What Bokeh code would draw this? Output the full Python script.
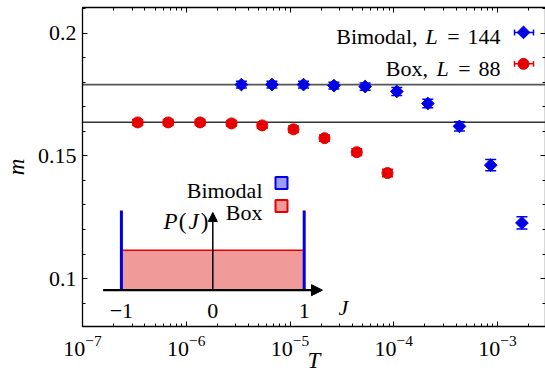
import numpy as np
from bokeh.plotting import figure
from bokeh.models import (Range1d, LinearScale, LogAxis, LinearAxis, FixedTicker, LogTicker,
                          Span, Whisker, TeeHead, ColumnDataSource, Arrow, NormalHead,
                          CustomJSTickFormatter)
from bokeh.core.properties import value
from bokeh.embed import file_html
from bokeh.resources import INLINE

# ---------------- data ----------------
T_bimodal = [3.4e-6, 6.7e-6, 1.35e-5, 2.65e-5, 5.3e-5, 1.07e-4, 2.13e-4, 4.3e-4, 8.6e-4, 1.72e-3]
m_bimodal = [0.1790, 0.1790, 0.1790, 0.1786, 0.1782, 0.1762, 0.1713, 0.1620, 0.1462, 0.1227]
err_bimodal = [0.0014, 0.0014, 0.0014, 0.0014, 0.0015, 0.0016, 0.0017, 0.0019, 0.0023, 0.0025]

T_box = [3.4e-7, 6.7e-7, 1.36e-6, 2.73e-6, 5.4e-6, 1.08e-5, 2.15e-5, 4.4e-5, 8.7e-5]
m_box = [0.1636, 0.1636, 0.1636, 0.1632, 0.1624, 0.1608, 0.1572, 0.1515, 0.1430]
err_box = [0.0012, 0.0012, 0.0012, 0.0012, 0.0012, 0.0013, 0.0013, 0.0014, 0.0015]

plateaus = [0.179, 0.1637]
series_names = ["Bimodal", "Box"]
L_values = ["144", "88"]

y_tick_values = [0.1, 0.15, 0.2]
y_tick_labels = ["0.1", "0.15", "0.2"]
y_minor_ticks = [0.08, 0.09, 0.10, 0.11, 0.12, 0.13, 0.14, 0.15, 0.16, 0.17, 0.18, 0.19, 0.20, 0.21]

# inset distributions P(J)
box_J = [-1.0, 1.0]
box_P = [1.0]
bimodal_J = [-1.0, 1.0]
bimodal_P = [2.0, 2.0]
J_ticks = [-1, 0, 1]
J_tick_labels = ["\u22121", "0", "1"]

BLUE = "#0000e6"
RED = "#e60000"
FONT = "Liberation Serif"
FS = "22px"

# ---------------- geometry ----------------
FL, FR, FT, FB = 82, 545, 6.7, 327      # frame edges in page pixels
x_lo = 1e-7
x_hi = 10 ** (-7 + (FR - FL) / 103.75)
y_lo, y_hi = 0.08054, 0.21038
J0_px, J_scale = 212.3, 91.4
P0_py, P_scale = 290.5, 40.0

p = figure(width=545, height=375, x_axis_type="log",
           x_range=Range1d(x_lo, x_hi), y_range=Range1d(y_lo, y_hi),
           output_backend="svg", toolbar_location=None,
           min_border_left=FL, min_border_right=0, min_border_top=7, min_border_bottom=48)
p.xgrid.visible = False
p.ygrid.visible = False
p.outline_line_color = None
p.background_fill_color = "white"
p.border_fill_color = "white"

p.extra_x_ranges = {"J": Range1d((FL - J0_px) / J_scale, (FR - J0_px) / J_scale),
                    "px": Range1d(FL, FR)}
p.extra_x_scales = {"J": LinearScale(), "px": LinearScale()}
p.extra_y_ranges = {"P": Range1d((P0_py - FB) / P_scale, (P0_py - FT) / P_scale),
                    "py": Range1d(FB, FT)}
p.extra_y_scales = {"P": LinearScale(), "py": LinearScale()}

# ---------------- axes ----------------
def style_axis(ax):
    ax.axis_line_color = "black"
    ax.axis_line_width = 1.3
    ax.major_tick_in = 5
    ax.major_tick_out = 0
    ax.minor_tick_in = 3
    ax.minor_tick_out = 0
    ax.major_tick_line_color = "black"
    ax.minor_tick_line_color = "black"
    ax.major_label_text_font = FONT
    ax.major_label_text_font_size = FS
    ax.major_label_text_color = "black"
    ax.axis_label_text_font = FONT
    ax.axis_label_text_font_size = "23px"
    ax.axis_label_text_font_style = "italic"
    ax.axis_label_text_color = "black"

xax = p.xaxis[0]
style_axis(xax)
xax.ticker = LogTicker(num_minor_ticks=10)
xax.major_label_standoff = 9
xax.axis_label = "T"
xax.axis_label_standoff = -11

yax = p.yaxis[0]
style_axis(yax)
yax.ticker = FixedTicker(ticks=y_tick_values, minor_ticks=y_minor_ticks)
yax.major_label_overrides = {v: s for v, s in zip(y_tick_values, y_tick_labels)}
yax.major_label_standoff = 6
yax.axis_label = "m"
yax.axis_label_standoff = 6

empty = CustomJSTickFormatter(code="return ''")
top = LogAxis(ticker=LogTicker(num_minor_ticks=10), formatter=empty)
style_axis(top)
top.major_label_standoff = 0
top.major_label_text_font_size = "0px"
p.add_layout(top, "above")

right = LinearAxis(ticker=FixedTicker(ticks=y_tick_values, minor_ticks=y_minor_ticks), formatter=empty)
style_axis(right)
right.major_label_standoff = 0
right.major_label_text_font_size = "0px"
p.add_layout(right, "right")

# ---------------- plateau lines ----------------
for yv, col in zip(plateaus, ["#555555", "#333333"]):
    p.add_layout(Span(location=yv, dimension="width", line_color=col, line_width=1.6,
                      level="underlay"))

# ---------------- data series ----------------
src_b = ColumnDataSource(dict(T=T_bimodal, m=m_bimodal,
                              lo=[a - e for a, e in zip(m_bimodal, err_bimodal)],
                              hi=[a + e for a, e in zip(m_bimodal, err_bimodal)]))
src_r = ColumnDataSource(dict(T=T_box, m=m_box,
                              lo=[a - e for a, e in zip(m_box, err_box)],
                              hi=[a + e for a, e in zip(m_box, err_box)]))

for src, col in [(src_b, BLUE), (src_r, RED)]:
    p.add_layout(Whisker(source=src, base="T", lower="lo", upper="hi", dimension="height",
                         line_color=col, line_width=1.5,
                         upper_head=TeeHead(size=11, line_color=col, line_width=1.5),
                         lower_head=TeeHead(size=11, line_color=col, line_width=1.5)))

p.scatter("T", "m", source=src_b, marker="square", angle=np.pi / 4, size=9,
          fill_color=BLUE, line_color=BLUE)
p.scatter("T", "m", source=src_r, marker="circle", size=11, fill_color=RED, line_color=RED)

# ---------------- main legend ----------------
def txt(x, y, s, align="left", italic=False, xr="px", yr="py", size=FS):
    p.text(x=[x], y=[y], text=[s], x_range_name=xr, y_range_name=yr,
           text_font=value(FONT), text_font_size=value(size),
           text_font_style="italic" if italic else "normal",
           text_align=align, text_baseline="alphabetic", text_color="black")

rows = [(36, 417, 431, 453, BLUE, "square", 9, np.pi / 4, 31.7),
        (68, 427.5, 442, 464, RED, "circle", 11, 0.0, 63.3)]
for (base, name_r, L_c, eq_c, col, mk, sz, ang, my), name, Lv in zip(rows, series_names, L_values):
    txt(name_r, base, name + ",", align="right")
    txt(L_c, base, "L", align="center", italic=True)
    txt(eq_c, base, "=", align="center")
    txt(500, base, Lv, align="right")
    p.segment(x0=[514], y0=[my], x1=[533], y1=[my], x_range_name="px", y_range_name="py",
              line_color=col, line_width=1.5)
    p.segment(x0=[514, 533], y0=[my - 3, my - 3], x1=[514, 533], y1=[my + 3, my + 3],
              x_range_name="px", y_range_name="py", line_color=col, line_width=1.5)
    p.scatter(x=[523], y=[my], marker=mk, size=sz, angle=ang, fill_color=col, line_color=col,
              x_range_name="px", y_range_name="py")

# ---------------- inset ----------------
p.quad(left=[box_J[0]], right=[box_J[1]], bottom=[0], top=box_P, x_range_name="J",
       y_range_name="P", fill_color="#f09a9a", line_color=None)
p.segment(x0=[box_J[0]], y0=box_P, x1=[box_J[1]], y1=box_P, x_range_name="J",
          y_range_name="P", line_color=RED, line_width=1.5)
p.segment(x0=bimodal_J, y0=[0, 0], x1=bimodal_J, y1=bimodal_P, x_range_name="J",
          y_range_name="P", line_color=BLUE, line_width=3)

p.add_layout(Arrow(x_start=-1.2, y_start=0, x_end=1.2, y_end=0, x_range_name="J",
                   y_range_name="P", line_color="black", line_width=2.2,
                   end=NormalHead(size=11, fill_color="black", line_color="black")))
p.add_layout(Arrow(x_start=0, y_start=0, x_end=0, y_end=1.95, x_range_name="J",
                   y_range_name="P", line_color="black", line_width=1.5,
                   end=NormalHead(size=9, fill_color="black", line_color="black")))

for j, lab in zip(J_ticks, J_tick_labels):
    txt(j, 311, lab, align="center", xr="J")
txt(343, 308, "J", align="center", italic=True)

# P(J) label
txt(170, 222, "P", align="center", italic=True, size="23px")
txt(182, 222, "(", align="center", size="23px")
txt(193, 222, "J", align="center", italic=True, size="23px")
txt(204, 222, ")", align="center", size="23px")

# inset legend
txt(262, 190, series_names[0], align="right")
txt(262, 213, series_names[1], align="right")
p.scatter(x=[281], y=[183], marker="square", size=12, fill_color="#9c9cf5",
          line_color=BLUE, line_width=2, x_range_name="px", y_range_name="py")
p.scatter(x=[281], y=[206], marker="square", size=12, fill_color="#f09a9a",
          line_color=RED, line_width=2, x_range_name="px", y_range_name="py")

open("out.html", "w").write(file_html(p, INLINE))
